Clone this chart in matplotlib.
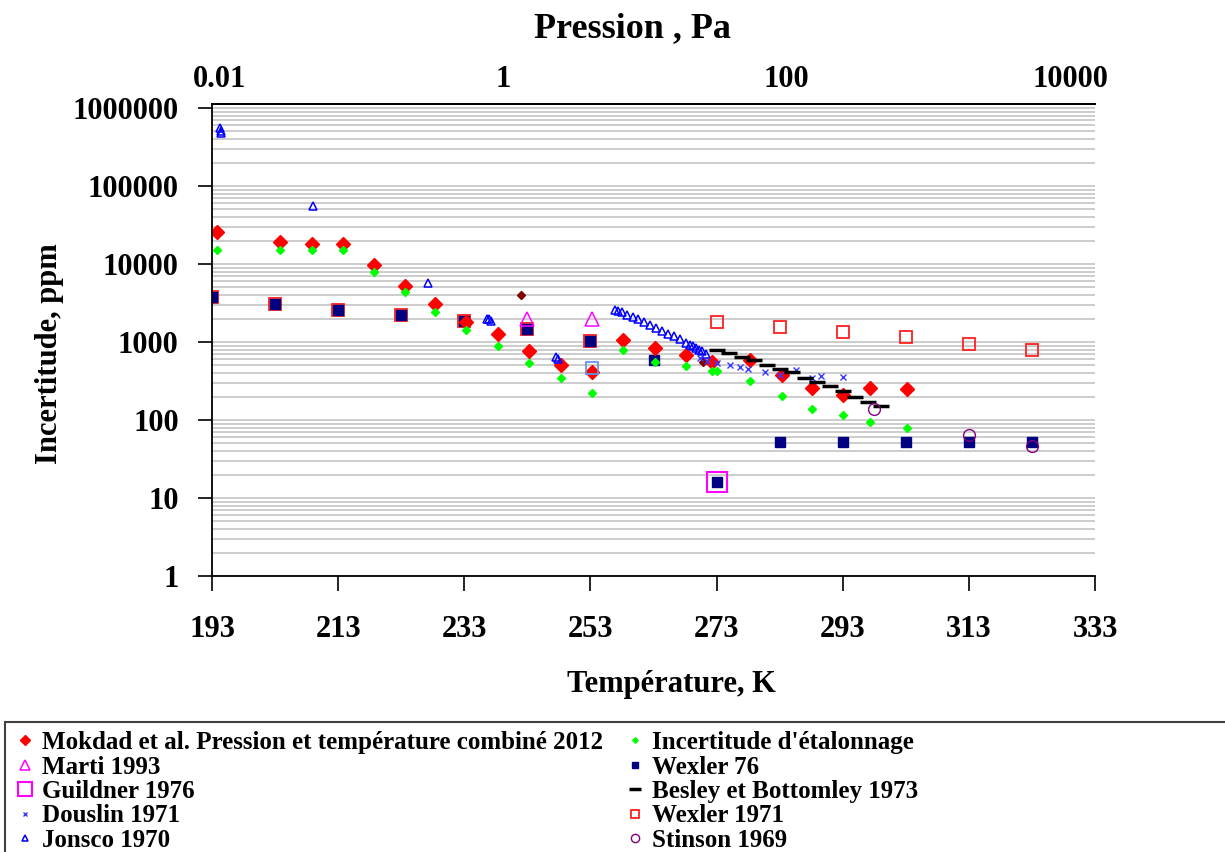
import matplotlib
matplotlib.use("Agg")
import matplotlib.pyplot as plt
from matplotlib.ticker import LogLocator, FixedLocator, FixedFormatter, NullFormatter
from matplotlib.patches import Rectangle

plt.rcParams['font.family'] = ['Liberation Serif', 'DejaVu Serif']
plt.rcParams['font.weight'] = 'bold'

# --- data (T in K, uncertainty in ppm) ---
mokdad_T = [193.8, 203.8, 208.9, 213.8, 218.7, 223.6, 228.4, 233.3, 238.3, 243.2, 248.3, 253.2,
            258.2, 263.2, 268.2, 272.3, 278.3, 283.4, 288.1, 293.0, 297.3, 303.2]
mokdad_v = [25700, 19000, 18000, 18000, 9700, 5200, 3100, 1800, 1270, 770, 510, 410,
            1070, 830, 680, 550, 590, 380, 255, 210, 255, 250]

etal_T = [193.8, 203.8, 208.9, 213.8, 218.7, 223.6, 228.4, 233.3, 238.3, 243.2, 248.3, 253.2,
          258.2, 263.2, 268.2, 272.3, 273.0, 278.3, 283.4, 288.1, 293.0, 297.3, 303.2]
etal_v = [15000, 15000, 15000, 15000, 7900, 4400, 2430, 1420, 890, 540, 345, 220,
          790, 560, 490, 425, 420, 316, 204, 140, 116, 94, 79]

marti_T = [243.0, 253.3]
marti_v = [1970, 2000]

wexler76_T = [193, 203, 213, 223, 233, 243, 253, 263, 273, 283, 293, 303, 313, 323]
wexler76_v = [3800, 3100, 2570, 2220, 1860, 1470, 1030, 590, 16, 52, 52, 52, 52, 52]

guildner_T = [273]
guildner_v = [16]

besley_T = [273, 275, 277, 279, 281, 283, 285, 287, 289, 291, 293, 295, 297, 299]
besley_v = [790, 720, 650, 590, 500, 450, 410, 350, 305, 270, 235, 200, 172, 150]

douslin_T = [270.4, 271.5, 273.1, 275.1, 276.7, 278.0, 280.7, 283.1, 285.6, 288.1, 289.6, 293.0]
douslin_v = [624, 570, 537, 507, 479, 451, 412, 378, 437, 346, 366, 355]

wexler71_T = [193, 203, 213, 223, 233, 243, 253, 273, 283, 293, 303, 313, 323]
wexler71_v = [3800, 3100, 2570, 2220, 1860, 1470, 1030, 1820, 1560, 1350, 1150, 940, 790]

jonsco_T = [194.3, 194.4, 194.5, 209.0, 227.3, 236.6, 236.9, 237.3, 247.6, 247.9,
            256.9, 257.4, 258.0, 258.8, 259.7, 260.5, 261.5, 262.4, 263.4, 264.3,
            265.3, 266.2, 267.2, 268.1, 268.8, 269.3, 269.8, 270.2, 270.7, 271.3]
jonsco_v = [550000, 510000, 480000, 55000, 5700, 2000, 1950, 1880, 650, 610,
            2600, 2500, 2400, 2250, 2100, 1950, 1800, 1650, 1520, 1400,
            1280, 1180, 1080, 980, 920, 880, 840, 800, 760, 700]

stinson_T = [298.0, 313.0, 323.0]
stinson_v = [138, 64, 46]

# points without legend entry
extra_diam_T = [242.0, 270.9]
extra_diam_v = [4000, 550]
extra_sq_T = [253.2]
extra_sq_v = [460]

pressure_ticks = [0.01, 1, 100, 10000]
pressure_labels = ['0.01', '1', '100', '10000']
temp_ticks = [193, 213, 233, 253, 273, 293, 313, 333]

fig = plt.figure(figsize=(12.25, 8.52), dpi=100)
ax = fig.add_axes([212 / 1225, 1 - 576 / 852, 883 / 1225, 472 / 852])

h_w71, = ax.plot(wexler71_T, wexler71_v, 's', ms=8, mfc='none', mec='#ff2020', mew=1.3,
                 label='Wexler 1971')
h_w76, = ax.plot(wexler76_T, wexler76_v, 's', ms=7, color='#000080', mec='#000080',
                 label='Wexler 76')
h_guild, = ax.plot(guildner_T, guildner_v, 's', ms=14, mfc='none', mec='#ff00ff', mew=1.5,
                   label='Guildner 1976')
h_mok, = ax.plot(mokdad_T, mokdad_v, 'D', ms=7.4, color='#ff0000', mec='#ff0000',
                 label='Mokdad et al. Pression et température combiné 2012')
ax.plot(extra_sq_T, extra_sq_v, 's', ms=9, mfc='none', mec='#6495ed', mew=1.3)
h_etal, = ax.plot(etal_T, etal_v, 'D', ms=4, color='#00ff00', mec='#00ff00',
                  label="Incertitude d'étalonnage")
ax.plot(extra_diam_T, extra_diam_v, 'D', ms=4.5, color='#800000', mec='#800000')
h_marti, = ax.plot(marti_T, marti_v, '^', ms=10, mfc='none', mec='#ff00ff', mew=1.1,
                   label='Marti 1993')
h_jon, = ax.plot(jonsco_T, jonsco_v, '^', ms=5.5, mfc='none', mec='#0000ff', mew=1.1,
                 label='Jonsco 1970')
h_dou, = ax.plot(douslin_T, douslin_v, 'x', ms=5, color='#3a3aff', mew=1,
                 label='Douslin 1971')
h_bes, = ax.plot(besley_T, besley_v, '_', ms=12, color='black', mew=2.5,
                 label='Besley et Bottomley 1973')
h_sti, = ax.plot(stinson_T, stinson_v, 'o', ms=8.5, mfc='none', mec='#800080', mew=1,
                 label='Stinson 1969')

ax.set_yscale('log')
ax.set_ylim(1, 10 ** (6 + 4 / 78))
ax.set_xlim(193, 333)
ax.set_xticks(temp_ticks)
ax.yaxis.set_major_locator(FixedLocator([1, 10, 100, 1000, 10000, 100000, 1000000]))
ax.yaxis.set_major_formatter(FixedFormatter(['1', '10', '100', '1000', '10000', '100000', '1000000']))
ax.yaxis.set_minor_locator(LogLocator(base=10, subs=range(2, 10)))
ax.yaxis.set_minor_formatter(NullFormatter())
ax.grid(True, which='both', axis='y', color='#c8c8c8', lw=1.3)
ax.set_axisbelow(True)
ax.tick_params(axis='y', which='major', direction='out', length=10, width=1.2,
               labelsize=22, pad=14)
ax.tick_params(axis='y', which='minor', length=0)
ax.tick_params(axis='x', direction='out', length=11, width=1.2, labelsize=22, pad=17)
ax.spines['right'].set_visible(False)
for s in ['left', 'bottom', 'top']:
    ax.spines[s].set_linewidth(1.3)

ax.set_ylabel('Incertitude, ppm', fontsize=22, fontweight='bold')
ax.yaxis.set_label_coords(-0.168, 0.472)
ax.set_xlabel('Température, K', fontsize=22, fontweight='bold')
ax.xaxis.set_label_coords(0.52, -0.2)

# pressure axis on top
axt = ax.twiny()
axt.set_xscale('log')
axt.set_xlim(10 ** -2.056, 10 ** 4.176)
axt.xaxis.set_major_locator(FixedLocator(pressure_ticks))
axt.xaxis.set_major_formatter(FixedFormatter(pressure_labels))
axt.xaxis.set_minor_formatter(NullFormatter())
axt.tick_params(axis='x', which='both', length=0, labelsize=22, pad=7)
axt.spines['right'].set_visible(False)
axt.spines['left'].set_visible(False)
axt.spines['bottom'].set_visible(False)
axt.spines['top'].set_linewidth(1.3)
fig.text(633 / 1225, 1 - 37 / 852, 'Pression , Pa', fontsize=26, fontweight='bold',
         ha='center', va='baseline')

# legend box
fig.patches.append(Rectangle((5 / 1225, -0.1), 1.2, (852 - 722) / 852 + 0.1,
                             transform=fig.transFigure, fill=False,
                             edgecolor='#404040', lw=1.5))
handles = [h_mok, h_marti, h_guild, h_dou, h_jon, h_etal, h_w76, h_bes, h_w71, h_sti]
fig.legend(handles=handles, labels=[h.get_label() for h in handles], ncol=2,
           loc='upper left', bbox_to_anchor=(17 / 1225, 1 - 731 / 852),
           frameon=False, fontsize=18, markerscale=0.7, handlelength=0.6,
           handletextpad=0.38, labelspacing=0.06, columnspacing=1.0, borderpad=0,
           borderaxespad=0)

fig.savefig('out.png', dpi=100)
